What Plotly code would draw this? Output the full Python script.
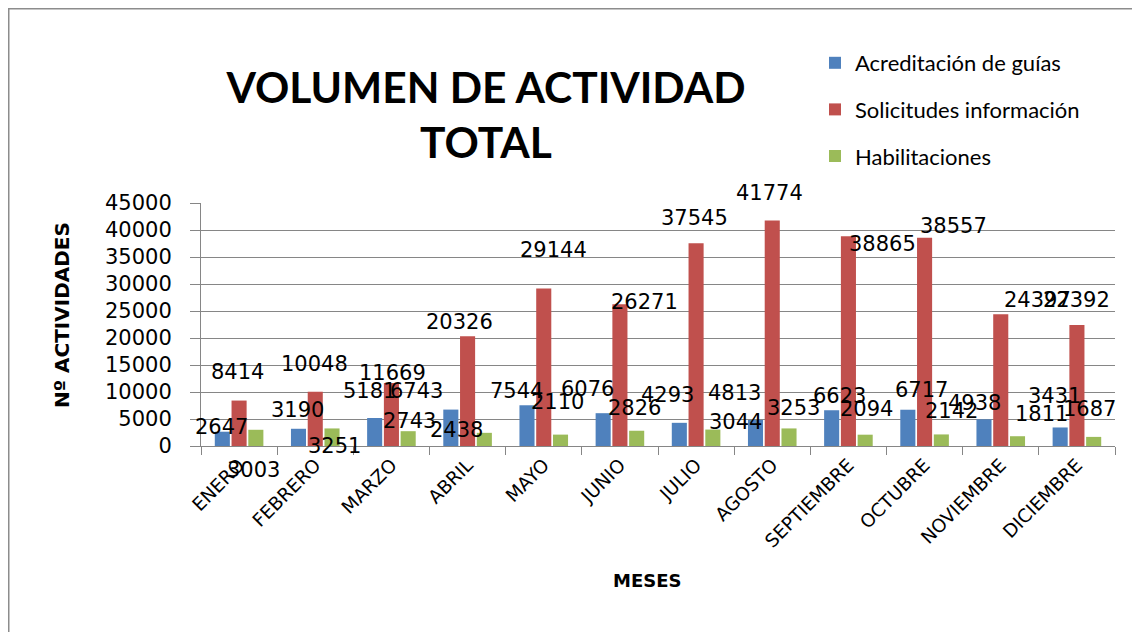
import plotly.graph_objects as go

# ---- data ----
meses = ["ENERO", "FEBRERO", "MARZO", "ABRIL", "MAYO", "JUNIO", "JULIO",
         "AGOSTO", "SEPTIEMBRE", "OCTUBRE", "NOVIEMBRE", "DICIEMBRE"]
acreditacion = [2647, 3190, 5181, 6743, 7544, 6076, 4293, 4813, 6623, 6717, 4938, 3431]
solicitudes = [8414, 10048, 11669, 20326, 29144, 26271, 37545, 41774, 38865, 38557, 24397, 22392]
habilitaciones = [3003, 3251, 2743, 2438, 2110, 2826, 3044, 3253, 2094, 2142, 1811, 1687]

series_names = ["Acreditación de guías", "Solicitudes información", "Habilitaciones"]
y_ticks = [0, 5000, 10000, 15000, 20000, 25000, 30000, 35000, 40000, 45000]

# ---- style / label placement (pixel shifts of the hand-moved data labels) ----
colors = ["#4F81BD", "#C0504D", "#9BBB59"]
bar_shift = [-16.5, 0, 16.5]
dx = [
    [-1.5, -1.5, -5, -34.5, -10.5, -15.5, -12.5, -21, 7.5, 13, -10, -5.5],
    [-2, -1, 1.5, -8, 10, 25, -2, -2.5, 34, 29, 36.5, 0],
    [-2.5, 2.5, 2, -27.5, -2.5, -1.5, 23, 5, 1.5, 10.5, 24.5, -3.5],
]
dy = [
    [5, 19, 27, 18.5, 14, 24, 28, 27.5, 14, 20, 16, 31],
    [28.5, 28, 9.5, 14, 39, 2, 25, 27, -7.5, 12, 14, 25],
    [-40, -17.5, 10, 3, 33, 22.5, 8, 20, 26, 23, 22, 28],
]

O = 8  # page body margin: figure starts at (8, 8) in the window
W, H = 1140 - O, 632 - O
L = 201 - O
R = W - (1115 - O)
T = 203 - O
B = H - (446 - O)
pw, ph = W - L - R, H - T - B
y0px = 446 - O  # figure y of the x axis


def px_x(x):  # page x -> paper x
    return (x - O - L) / pw


def px_y(y):  # page y -> paper y
    return (y0px - (y - O)) / ph


fig = go.Figure()
all_vals = [acreditacion, solicitudes, habilitaciones]
for i, (name, vals) in enumerate(zip(series_names, all_vals)):
    fig.add_trace(go.Bar(
        x=meses, y=vals, name=name, legendgroup=name,
        marker=dict(color=colors[i], line=dict(width=0)),
    ))

annotations = []
for s, vals in enumerate(all_vals):
    for k, v in enumerate(vals):
        annotations.append(dict(
            x=meses[k], y=v, xref="x", yref="y", text=str(v), showarrow=False,
            xshift=bar_shift[s] + dx[s][k], yshift=dy[s][k],
            font=dict(family="DejaVu Sans", size=21, color="#000000"),
            xanchor="center", yanchor="middle",
        ))

# axis titles
annotations.append(dict(
    x=px_x(62), y=px_y(315), xref="paper", yref="paper",
    text="<b>Nº ACTIVIDADES</b>", textangle=-90, showarrow=False,
    font=dict(family="DejaVu Sans", size=20, color="#000000"),
    xanchor="center", yanchor="middle",
))
annotations.append(dict(
    x=px_x(647), y=px_y(580), xref="paper", yref="paper",
    text="<b>MESES</b>", showarrow=False,
    font=dict(family="DejaVu Sans", size=18, color="#000000"),
    xanchor="center", yanchor="middle",
))

shapes = [
    dict(type="line", xref="paper", yref="paper",
         x0=px_x(8), x1=px_x(1150), y0=px_y(8.5), y1=px_y(8.5),
         line=dict(color="#8c8c8c", width=2)),
    dict(type="line", xref="paper", yref="paper",
         x0=px_x(8.5), x1=px_x(8.5), y0=px_y(8), y1=px_y(640),
         line=dict(color="#8c8c8c", width=2)),
]

fig.update_layout(
    width=W, height=H,
    margin=dict(l=L, r=R, t=T, b=B, autoexpand=False),
    paper_bgcolor="white", plot_bgcolor="white",
    barmode="group", bargap=0.34, bargroupgap=0.1,
    title=dict(
        text="<b>VOLUMEN DE ACTIVIDAD<br>TOTAL</b>",
        x=(486 - O) / W, xanchor="center", xref="container",
        y=1 - 95 / H, yanchor="top", yref="container",
        font=dict(family="Lato", size=42.5, color="#000000"),
    ),
    legend=dict(
        x=(815 - O - L) / pw, xanchor="left", y=(y0px - 34) / ph, yanchor="top",
        font=dict(family="Lato", size=22, color="#000000"),
        tracegroupgap=15, bgcolor="rgba(0,0,0,0)",
    ),
    xaxis=dict(
        type="category", range=[-0.5, len(meses) - 0.5], autorange=False,
        tickson="boundaries", ticks="outside", ticklen=8,
        tickcolor="#868686", showline=True, linecolor="#868686", linewidth=1,
        showgrid=False, tickangle=-45,
        tickfont=dict(family="DejaVu Sans", size=18.5, color="#000000"),
        automargin=False,
    ),
    yaxis=dict(
        range=[0, 45000], autorange=False, tickvals=y_ticks,
        ticktext=[str(t) for t in y_ticks],
        ticks="outside", ticklen=10, tickcolor="#868686",
        showline=True, linecolor="#868686", linewidth=1,
        showgrid=True, gridcolor="#868686", gridwidth=1,
        tickfont=dict(family="DejaVu Sans", size=21, color="#000000"),
        ticklabelstandoff=14, automargin=False, zeroline=False,
    ),
    annotations=annotations,
    shapes=shapes,
    showlegend=True,
)

fig.write_html("out.html")
